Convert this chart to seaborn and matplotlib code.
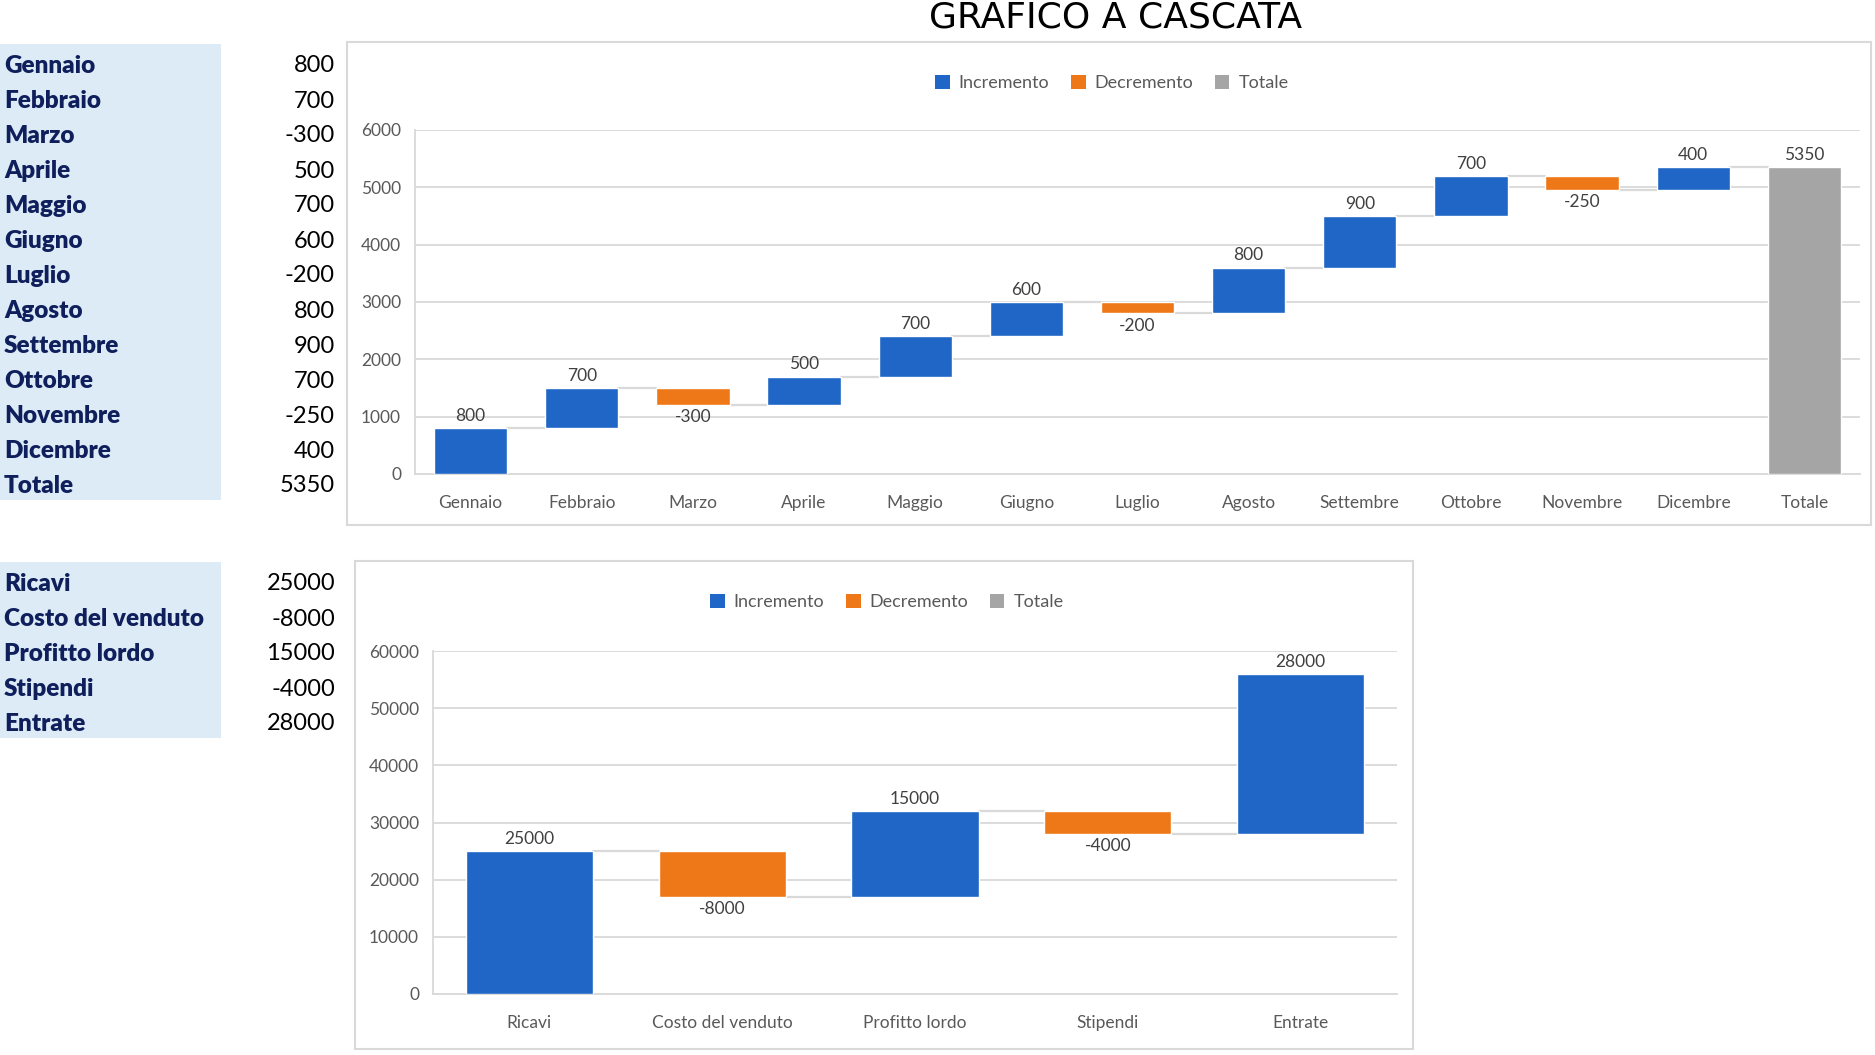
import numpy as np
import pandas as pd
import matplotlib
matplotlib.use("Agg")
import matplotlib.pyplot as plt
from matplotlib.patches import Rectangle, Patch
import seaborn as sns

# Data
mesi = ["Gennaio", "Febbraio", "Marzo", "Aprile", "Maggio", "Giugno", "Luglio",
        "Agosto", "Settembre", "Ottobre", "Novembre", "Dicembre", "Totale"]
valori_mesi = [800, 700, -300, 500, 700, 600, -200, 800, 900, 700, -250, 400, 5350]

voci = ["Ricavi", "Costo del venduto", "Profitto lordo", "Stipendi", "Entrate"]
valori_voci = [25000, -8000, 15000, -4000, 28000]

legenda = ["Incremento", "Decremento", "Totale"]

# Settings
W, H = 1875, 1055
COLORI = {"Incremento": "#1F66C6", "Decremento": "#EE7817", "Totale": "#A5A5A5"}
GRID = "#D9D9D9"
TXT = "#595959"
BLU_TAB = "#DDEBF7"


def fx(px):
    return px / W


def fy(py):
    return 1 - py / H


def waterfall_df(cats, vals, has_total):
    vals = np.array(vals, dtype=float)
    steps = vals[:-1] if has_total else vals
    end = np.cumsum(steps)
    start = end - steps
    kinds = ["Incremento" if v >= 0 else "Decremento" for v in steps]
    if has_total:
        start = np.append(start, 0.0)
        end = np.append(end, vals[-1])
        kinds.append("Totale")
    return pd.DataFrame({"cat": cats, "val": vals, "start": start, "end": end, "kind": kinds})


def draw_waterfall(ax, df, ymax, step):
    order = list(df["cat"])
    for kind in legenda:
        sub = df[df["kind"] == kind]
        if sub.empty:
            continue
        sns.barplot(data=sub, x="cat", y="val", order=order, bottom=sub["start"].values,
                    color=COLORI[kind], saturation=1, width=0.66, errorbar=None,
                    ax=ax, zorder=3)
        labels = [f"{int(v)}" for v in sub["val"]]
        ax.bar_label(ax.containers[-1], labels=labels, padding=3, fontsize=12.5, color="#404040")
    # connectors between bars
    ends = df["end"].values
    for i in range(len(df) - 1):
        ax.plot([i + 0.33, i + 0.67], [ends[i], ends[i]], color=GRID, lw=1.6, zorder=2)
    ax.set_xlim(-0.5, len(df) - 0.5)
    ax.set_ylim(0, ymax)
    ax.set_yticks(np.arange(0, ymax + 1, step))
    ax.yaxis.grid(True, color=GRID, lw=1.3)
    ax.set_axisbelow(True)
    for s in ["top", "right"]:
        ax.spines[s].set_visible(False)
    for s in ["left", "bottom"]:
        ax.spines[s].set_color(GRID)
        ax.spines[s].set_linewidth(1.3)
    ax.tick_params(axis="x", length=0, pad=15, labelsize=12.5, labelcolor=TXT)
    ax.tick_params(axis="y", length=0, pad=10, labelsize=12.5, labelcolor=TXT)
    ax.set_xlabel("")
    ax.set_ylabel("")


def draw_table(fig, cats, vals, y0):
    for i, (c, v) in enumerate(zip(cats, vals)):
        y = fy(y0 + 35 * i)
        fig.text(fx(4), y, c, fontsize=17.5, fontweight="heavy", color="#0F1F5C", va="center")
        fig.text(fx(335), y, str(v), fontsize=17, color="black", ha="right", va="center")


def main():
    sns.set_theme(style="white")
    plt.rcParams["font.family"] = ["Lato", "DejaVu Sans"]

    fig = plt.figure(figsize=(W / 100, H / 100), dpi=100)

    df1 = waterfall_df(mesi, valori_mesi, has_total=True)
    df2 = waterfall_df(voci, valori_voci, has_total=False)

    # chart frames and table backgrounds
    fig.add_artist(Rectangle((fx(347), fy(525)), fx(1871 - 347), (525 - 42) / H,
                             transform=fig.transFigure, fill=False, edgecolor=GRID, lw=1.5))
    fig.add_artist(Rectangle((fx(355), fy(1049)), fx(1413 - 355), (1049 - 561) / H,
                             transform=fig.transFigure, fill=False, edgecolor=GRID, lw=1.5))
    fig.add_artist(Rectangle((0, fy(500)), fx(221), (500 - 44) / H,
                             transform=fig.transFigure, facecolor=BLU_TAB, edgecolor="none", zorder=0))
    fig.add_artist(Rectangle((0, fy(738)), fx(221), (738 - 562) / H,
                             transform=fig.transFigure, facecolor=BLU_TAB, edgecolor="none", zorder=0))

    ax1 = fig.add_axes([fx(415), fy(474), fx(1860 - 415), (474 - 130) / H])
    draw_waterfall(ax1, df1, 6000, 1000)

    ax2 = fig.add_axes([fx(433), fy(994), fx(1397 - 433), (994 - 651) / H])
    draw_waterfall(ax2, df2, 60000, 10000)

    handles = [Patch(facecolor=COLORI[k], edgecolor="none") for k in legenda]
    for cx, cy in [(1112, 83), (887, 602)]:
        fig.legend(handles, legenda, loc="center", bbox_to_anchor=(fx(cx), fy(cy)), ncol=3,
                   frameon=False, fontsize=13, handlelength=0.8, handleheight=0.8,
                   handletextpad=0.5, columnspacing=1.2, labelcolor=TXT)

    draw_table(fig, mesi, valori_mesi, 66)
    draw_table(fig, voci, valori_voci, 584)

    fig.text(fx(1116), fy(18), "GRAFICO A CASCATA", ha="center", va="center",
             fontsize=26, color="black", family=["DejaVu Sans"])

    fig.savefig("out.png", dpi=100)
    plt.close(fig)


if __name__ == "__main__":
    main()
